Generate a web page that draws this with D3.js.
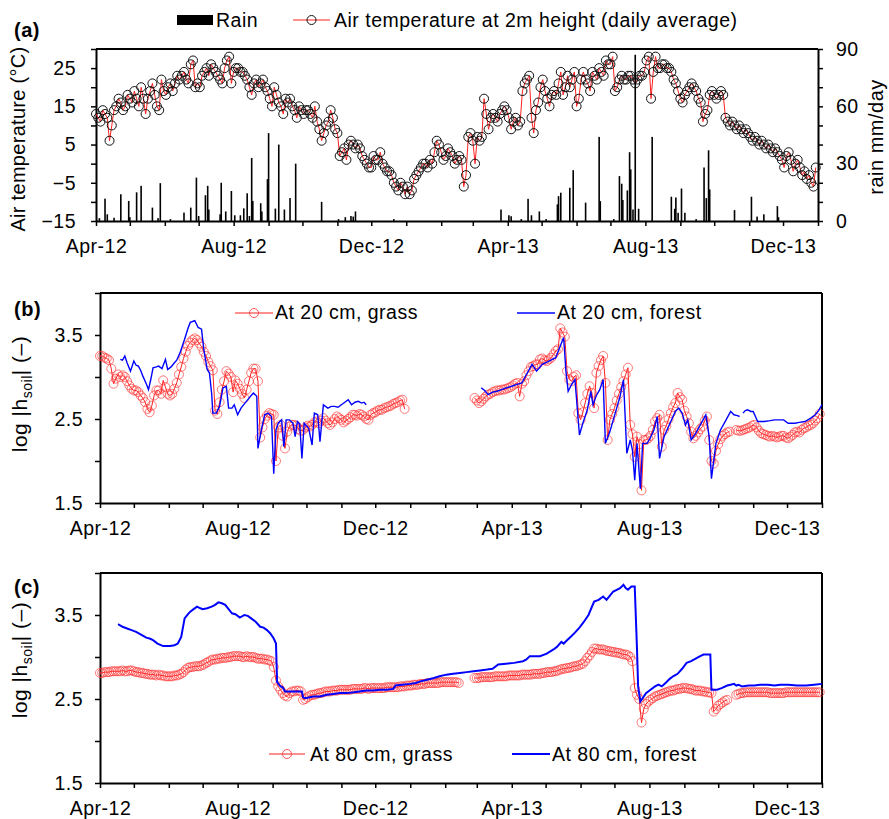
<!DOCTYPE html>
<html>
<head>
<meta charset="utf-8">
<script src="https://cdn.jsdelivr.net/npm/d3@7"></script>
<style>
body { margin: 0; background: #fff; }
text { font-family: Arial, "Liberation Sans", sans-serif; }
</style>
</head>
<body>
<div id="chart"></div>
<script>
const width = 889, height = 819;

// ---- data ----
// days are counted from 1 Apr 2012; step arrays give one value every 2 days
const step = 2;
const airTemp = [
  13, 12, 11, 14, 13, 12, 6, 10, 14, 15,
  17, 16, 14, 15, 18, 17, 16, 19, 17, 15,
  20, 17, 13, 17, 19, 21, 18, 15, 14, 22,
  19, 18, 20, 21, 19, 21, 23, 22, 23, 24,
  22, 21, 26, 27, 20, 21, 20, 23, 24, 25,
  23, 26, 25, 24, 23, 22, 21, 25, 27, 28,
  21, 24, 25, 25, 24, 24, 23, 22, 20, 18,
  21, 22, 20, 21, 22, 20, 19, 17, 15, 20,
  18, 16, 15, 13, 17, 16, 17, 15, 14, 12,
  15, 14, 13, 14, 14, 13, 12, 15, 11, 9,
  6, 8, 10, 11, 14, 12, 9, 8, 2, 3,
  4, 1, 5, 6, 5, 4, 5, 4, 2, 1,
  0, -1, -1, 2, 1, 1, 3, 0, -1, -2,
  -2, -3, -5, -6, -7, -5, -6, -8, -6, -8,
  -7, -4, -3, -2, -1, 0, 0, -1, 1, 0,
  3, 6, 5, 3, 1, 2, 4, 3, 2, 0,
  1, 2, 1, -6, -3, 7, 8, 6, 0, 7,
  6, 7, 17, 13, 9, 12, 13, 12, 11, 13,
  14, 15, 14, 12, 9, 11, 12, 10, 11, 19,
  21, 22, 23, 12, 8, 14, 16, 20, 22, 19,
  17, 15, 18, 19, 18, 21, 24, 18, 20, 23,
  20, 22, 24, 15, 17, 22, 24, 22, 21, 19,
  24, 23, 22, 25, 24, 23, 27, 26, 26, 28,
  19, 20, 22, 23, 22, 22, 23, 23, 22, 21,
  22, 23, 23, 24, 27, 28, 17, 24, 28, 25,
  25, 26, 26, 25, 25, 24, 22, 21, 19, 17,
  16, 18, 19, 20, 21, 20, 19, 17, 16, 11,
  13, 14, 18, 19, 18, 17, 18, 19, 18, 12,
  11, 10, 11, 10, 9, 10, 9, 8, 9, 8,
  7, 6, 7, 6, 5, 6, 5, 4, 5, 4,
  3, 4, 3, 2, 1, -1, 2, 3, 1, -2,
  0, 1, -1, -3, -2, -4, -3, -5, -6, -1
];

// [day, mm]
const rain = [
  [3, 1.5], [8, 11.7], [10, 3.5], [16, 1.7], [22, 14], [29, 10.5], [30, 2], [36, 15], [40, 18.4],
  [50, 7], [55, 1.5], [57, 19.8], [66, 1], [78, 4.4], [84, 7], [89, 22.7], [91, 2.6], [97, 13.5],
  [99, 18.4], [100, 6], [110, 3.5], [111, 20], [115, 5], [120, 15.7], [123, 3], [128, 3], [131, 6.6],
  [134, 14.5], [136, 2.6], [138, 33], [139, 10.5], [146, 9.3], [147, 5], [152, 21.9], [153, 46],
  [159, 6.5], [162, 40], [167, 6], [172, 12], [177, 30], [200, 10], [215, 1], [221, 2], [226, 2.6],
  [228, 2.3], [230, 5], [264, 1], [359, 6], [366, 3], [368, 2.5], [377, 1], [383, 11.6], [386, 3],
  [393, 5], [399, 1], [409, 8.7], [410, 13], [412, 14.8], [420, 17.4], [423, 26.6], [434, 9.6],
  [446, 44], [447, 10.4], [459, 1], [464, 23.5], [466, 19.5], [467, 11], [471, 16], [473, 36],
  [474, 27], [476, 6], [478, 87], [481, 6.4], [493, 44], [510, 12.7], [513, 6.4], [514, 12.3],
  [516, 4.3], [519, 17], [522, 4.3], [532, 1], [539, 28], [541, 12], [543, 37], [544, 16.5],
  [566, 5.7], [581, 12.7], [586, 2.3], [592, 3.5], [604, 7.8], [605, 2]
];

// log|h_soil| at 20 cm, grass (three measured stretches)
const grassStarts = [0, 332, 564];
const grass20A = [
  3.25, 3.25, 3.23, 3.22, 3.20, 3.10, 2.92, 2.98, 3.03, 3.00,
  3.02, 3.00, 2.95, 2.90, 2.86, 2.84, 2.84, 2.82, 2.78, 2.75,
  2.70, 2.62, 2.58, 2.66, 2.78, 2.84, 2.84, 2.80, 2.96, 2.88,
  2.80, 2.78, 2.80, 2.86, 2.93, 3.03, 3.12, 3.22, 3.30, 3.37,
  3.41, 3.44, 3.46, 3.44, 3.40, 3.36, 3.30, 3.25, 3.18, 3.13,
  3.08, 2.60, 2.56, 2.70, 2.85, 2.95, 3.07, 3.04, 3.00, 2.82,
  2.96, 2.92, 2.86, 2.80, 2.75, 2.85, 2.95, 3.05, 3.10, 3.10,
  2.95, 2.28, 2.40, 2.50, 2.54, 2.57, 2.56, 2.55, 2.00, 2.40,
  2.43, 2.30, 2.15, 2.35, 2.41, 2.43, 2.43, 2.42, 2.38, 2.36,
  2.37, 2.40, 2.42, 2.41, 2.43, 2.46, 2.47, 2.45, 2.48, 2.51,
  2.48, 2.45, 2.43, 2.46, 2.50, 2.53, 2.51, 2.49, 2.46, 2.48,
  2.50, 2.52, 2.55, 2.55, 2.54, 2.56, 2.55, 2.53, 2.50, 2.49,
  2.55, 2.57, 2.58, 2.60, 2.61, 2.61, 2.63, 2.64, 2.65, 2.66,
  2.68, 2.69, 2.70, 2.72, 2.73, 2.62
];
const grass20B = [
  2.75, 2.72, 2.69, 2.71, 2.74, 2.77, 2.79, 2.80, 2.82, 2.83,
  2.84, 2.84, 2.85, 2.85, 2.86, 2.87, 2.88, 2.90, 2.92, 2.93,
  2.77, 2.92, 2.95, 3.02, 3.07, 3.12, 3.13, 3.15, 3.15, 3.21,
  3.22, 3.20, 3.19, 3.21, 3.23, 3.27, 3.31, 3.33, 3.58, 3.53,
  3.48, 3.07, 2.97, 2.95, 3.00, 3.02, 2.57, 2.49, 2.58, 2.69,
  2.80, 2.89, 2.81, 2.63, 3.05, 3.13, 3.20, 3.25, 2.93, 2.25,
  2.49, 2.56, 2.63, 2.72, 2.80, 2.88, 2.95, 3.03, 3.11, 2.43,
  2.32, 2.05, 2.29, 2.20, 1.65, 2.25, 2.25, 2.27, 2.30, 2.37,
  2.47, 2.51, 2.55, 2.17, 2.37, 2.42, 2.50, 2.57, 2.64, 2.69,
  2.81, 2.76, 2.73, 2.60, 2.53, 2.45, 2.35, 2.27, 2.30, 2.34,
  2.38, 2.41, 2.48, 2.53, 2.25, 2.00, 1.97, 2.12, 2.20, 2.26,
  2.30, 2.32, 2.34, 2.35
];
const grass20C = [
  2.37, 2.36, 2.36, 2.37, 2.38, 2.39, 2.40, 2.42, 2.43, 2.40,
  2.36, 2.33, 2.32, 2.31, 2.30, 2.29, 2.30, 2.29, 2.28, 2.29,
  2.30, 2.30, 2.28, 2.27, 2.29, 2.31, 2.34, 2.35, 2.34, 2.37,
  2.39, 2.40, 2.42, 2.43, 2.45, 2.48, 2.51, 2.56
];

// log|h_soil| at 20 cm, forest: [day, value], null = gap
const forest20 = [
  [18, 3.21], [20, 3.20], [22, 3.25], [24, 3.17], [27, 3.07], [30, 3.19], [32, 3.14], [34, 3.13],
  [36, 3.08], [38, 3.01], [41, 2.92], [43, 2.85], [45, 2.97], [47, 3.11], [50, 3.12], [52, 3.13],
  [55, 3.10], [58, 3.21], [60, 3.09], [63, 3.12], [66, 3.17], [68, 3.20], [71, 3.29], [75, 3.45],
  [78, 3.58], [80, 3.65], [84, 3.67], [87, 3.59], [90, 3.57], [92, 3.33], [95, 3.09], [97, 3.05],
  [99, 2.80], [100, 2.57], [103, 2.57], [106, 2.65], [109, 2.87], [112, 2.89], [114, 2.63],
  [117, 2.63], [119, 2.67], [122, 2.55], [125, 2.63], [128, 2.68], [131, 2.73], [134, 2.78],
  [136, 2.81], [139, 2.77], [140, 2.15], [143, 2.37], [146, 2.55], [149, 2.57], [152, 2.53],
  [154, 1.85], [156, 2.37], [158, 2.45], [161, 2.49], [163, 2.17], [165, 2.49], [168, 2.49],
  [171, 2.45], [173, 2.29], [175, 2.47], [177, 2.44], [179, 2.03], [181, 2.45], [185, 2.39],
  [188, 2.19], [190, 2.57], [193, 2.55], [195, 2.23], [198, 2.67], [202, 2.63], [205, 2.65],
  [208, 2.65], [211, 2.64], [214, 2.67], [217, 2.70], [220, 2.73], [223, 2.67], [226, 2.70],
  [229, 2.71], [232, 2.69], [234, 2.70], [236, 2.67],
  null,
  [338, 2.87], [341, 2.84], [344, 2.79], [348, 2.82], [352, 2.83], [356, 2.85], [360, 2.87],
  [365, 2.89], [369, 2.91], [374, 2.93], [378, 3.03], [383, 3.15], [387, 3.07], [392, 3.15],
  [398, 3.19], [404, 3.23], [408, 3.37], [411, 3.47], [413, 3.07], [415, 2.83], [418, 2.91],
  [421, 2.97], [425, 2.31], [428, 2.45], [432, 2.61], [435, 2.83], [437, 2.67], [440, 2.78],
  [443, 2.85], [446, 2.97], [448, 2.21], [452, 2.35], [455, 2.49], [458, 2.63], [461, 2.77],
  [464, 2.97], [467, 2.09], [470, 2.25], [472, 2.13], [474, 1.77], [476, 2.21], [479, 1.67],
  [481, 2.21], [485, 2.21], [488, 2.28], [491, 2.37], [494, 2.53], [496, 2.03], [500, 2.29],
  [503, 2.38], [506, 2.47], [510, 2.59], [513, 2.63], [516, 2.57], [519, 2.43], [521, 2.49],
  [524, 2.25], [528, 2.33], [533, 2.45], [537, 2.55], [540, 2.29], [542, 1.79], [546, 2.21],
  [550, 2.37], [555, 2.49], [559, 2.59], [562, 2.55], [565, 2.54], [567, 2.53],
  null,
  [570, 2.57], [572, 2.60], [574, 2.61], [577, 2.59], [579, 2.59], [583, 2.47], [586, 2.47],
  [589, 2.47], [594, 2.48], [598, 2.49], [602, 2.49], [606, 2.49], [610, 2.45], [616, 2.45],
  [620, 2.46], [625, 2.47], [630, 2.51], [634, 2.55], [637, 2.60], [640, 2.67]
];

// log|h_soil| at 80 cm, grass
const grass80A = [
  2.81, 2.81, 2.82, 2.82, 2.82, 2.83, 2.83, 2.83, 2.83, 2.83,
  2.84, 2.83, 2.83, 2.84, 2.84, 2.83, 2.82, 2.82, 2.81, 2.81,
  2.80, 2.80, 2.79, 2.79, 2.79, 2.78, 2.79, 2.78, 2.78, 2.77,
  2.77, 2.77, 2.77, 2.78, 2.78, 2.79, 2.80, 2.82, 2.85, 2.87,
  2.88, 2.88, 2.89, 2.89, 2.89, 2.90, 2.91, 2.93, 2.94, 2.96,
  2.97, 2.97, 2.98, 2.98, 2.99, 2.99, 2.99, 3.00, 3.00, 3.01,
  3.01, 3.01, 3.01, 3.00, 3.00, 3.01, 3.00, 3.00, 3.00, 2.99,
  2.98, 2.98, 2.98, 2.97, 2.97, 2.96, 2.95, 2.88, 2.72, 2.65,
  2.61, 2.57, 2.54, 2.53, 2.57, 2.59, 2.59, 2.60, 2.60, 2.59,
  2.49, 2.50, 2.52, 2.54, 2.55, 2.55, 2.56, 2.57, 2.57, 2.58,
  2.59, 2.59, 2.59, 2.60, 2.60, 2.60, 2.61, 2.61, 2.61, 2.61,
  2.61, 2.61, 2.62, 2.62, 2.62, 2.62, 2.62, 2.63, 2.63, 2.62,
  2.63, 2.63, 2.63, 2.63, 2.63, 2.63, 2.63, 2.64, 2.64, 2.64,
  2.64, 2.64, 2.64, 2.65, 2.65, 2.65, 2.66, 2.66, 2.66, 2.67,
  2.67, 2.67, 2.68, 2.68, 2.68, 2.69, 2.69, 2.69, 2.69, 2.69,
  2.69, 2.70, 2.70, 2.70, 2.70, 2.70, 2.70, 2.70, 2.70, 2.69
];
const grass80B = [
  2.75, 2.75, 2.75, 2.76, 2.76, 2.76, 2.76, 2.76, 2.76, 2.77,
  2.77, 2.77, 2.77, 2.77, 2.77, 2.78, 2.78, 2.78, 2.78, 2.78,
  2.78, 2.79, 2.79, 2.79, 2.79, 2.79, 2.80, 2.80, 2.80, 2.80,
  2.81, 2.81, 2.82, 2.82, 2.82, 2.83, 2.83, 2.84, 2.85, 2.86,
  2.86, 2.87, 2.87, 2.88, 2.89, 2.89, 2.90, 2.91, 2.92, 2.95,
  2.99, 3.02, 3.06, 3.10, 3.10, 3.09, 3.09, 3.09, 3.08, 3.07,
  3.07, 3.06, 3.06, 3.05, 3.05, 3.04, 3.03, 3.03, 3.02, 3.00,
  2.95, 2.63, 2.55, 2.50, 2.22, 2.38, 2.44, 2.47, 2.49, 2.51,
  2.53, 2.54, 2.55, 2.56, 2.57, 2.58, 2.59, 2.60, 2.60, 2.61,
  2.62, 2.62, 2.63, 2.63, 2.63, 2.62, 2.62, 2.61, 2.60, 2.60,
  2.60, 2.59, 2.59, 2.58, 2.58, 2.57, 2.35, 2.38, 2.42, 2.44,
  2.46, 2.48, 2.49
];
const grass80C = [
  2.55, 2.56, 2.57, 2.57, 2.58, 2.58, 2.58, 2.58, 2.58, 2.58,
  2.58, 2.58, 2.58, 2.58, 2.58, 2.57, 2.57, 2.57, 2.57, 2.57,
  2.57, 2.57, 2.58, 2.58, 2.58, 2.58, 2.58, 2.58, 2.58, 2.58,
  2.58, 2.58, 2.58, 2.58, 2.58, 2.58, 2.58, 2.58
];

// log|h_soil| at 80 cm, forest: [day, value]
const forest80 = [
  [16, 3.39], [20, 3.36], [24, 3.34], [28, 3.32], [32, 3.30], [36, 3.27], [41, 3.23], [44, 3.22],
  [47, 3.20], [51, 3.16], [56, 3.13], [59, 3.13], [62, 3.13], [66, 3.14], [69, 3.16], [72, 3.24],
  [75, 3.46], [78, 3.51], [80, 3.54], [83, 3.57], [86, 3.60], [89, 3.58], [91, 3.57], [95, 3.58],
  [99, 3.60], [102, 3.62], [105, 3.65], [108, 3.64], [111, 3.62], [114, 3.57], [117, 3.52],
  [120, 3.51], [124, 3.47], [128, 3.50], [131, 3.49], [134, 3.46], [138, 3.42], [142, 3.36],
  [145, 3.35], [148, 3.32], [151, 3.28], [154, 3.22], [156, 3.16], [157, 2.70], [160, 2.65],
  [162, 2.64], [164, 2.59], [168, 2.59], [172, 2.59], [176, 2.59], [179, 2.59], [180, 2.52],
  [182, 2.51], [189, 2.53], [195, 2.53], [201, 2.55], [207, 2.56], [213, 2.57], [219, 2.57],
  [225, 2.58], [230, 2.59], [236, 2.60], [242, 2.60], [248, 2.61], [254, 2.61], [260, 2.62],
  [262, 2.66], [268, 2.67], [275, 2.68], [280, 2.69], [284, 2.71], [290, 2.73], [296, 2.75],
  [301, 2.77], [307, 2.79], [313, 2.80], [319, 2.81], [325, 2.82], [331, 2.83], [337, 2.84],
  [343, 2.85], [348, 2.86], [353, 2.91], [360, 2.92], [367, 2.93], [375, 2.95], [378, 2.97],
  [381, 3.01], [385, 3.01], [390, 3.01], [396, 3.04], [402, 3.09], [405, 3.12], [409, 3.18],
  [411, 3.16], [414, 3.20], [418, 3.25], [421, 3.29], [425, 3.35], [429, 3.42], [433, 3.50],
  [438, 3.66], [442, 3.68], [446, 3.72], [449, 3.68], [452, 3.73], [455, 3.78], [458, 3.80],
  [461, 3.82], [464, 3.86], [466, 3.82], [468, 3.80], [471, 3.84], [474, 3.84], [476, 3.10],
  [477, 2.65], [479, 2.47], [482, 2.53], [484, 2.57], [488, 2.61], [492, 2.65], [495, 2.67],
  [498, 2.65], [502, 2.70], [505, 2.74], [508, 2.77], [512, 2.80], [516, 2.86], [520, 2.93],
  [524, 2.95], [528, 2.98], [532, 3.01], [535, 3.03], [538, 3.03], [541, 3.03], [542, 2.61],
  [547, 2.61], [551, 2.63], [556, 2.66], [559, 2.67], [562, 2.68], [564, 2.66], [566, 2.67],
  [569, 2.65], [575, 2.66], [580, 2.66], [585, 2.67], [592, 2.67], [598, 2.66], [603, 2.67],
  [610, 2.67], [618, 2.66], [626, 2.66], [633, 2.67], [640, 2.68]
];

const tempTicks = [-15, -10, -5, 0, 5, 10, 15, 20, 25, 30];
const tempLabels = [-15, -5, 5, 15, 25];
const rainTicks = [0, 10, 20, 30, 40, 50, 60, 70, 80, 90];
const rainLabels = [0, 30, 60, 90];
const soilTicks = [1.5, 2, 2.5, 3, 3.5, 4];
const soilLabels = [1.5, 2.5, 3.5];

// ---- helpers ----
const t0 = new Date(Date.UTC(2012, 3, 1));
const t1 = new Date(Date.UTC(2014, 0, 1));
const toDate = d => new Date(t0.getTime() + d * 864e5);
const months = d3.utcMonth.range(t0, d3.utcDay.offset(t1, 1));
const fmt = d3.utcFormat("%b-%y");
const labelled = d => [3, 7, 11].includes(d.getUTCMonth());

const stepSeries = (vals, start) => vals.map((v, i) => [start + i * step, v]);
const grass20 = [
  ...stepSeries(grass20A, grassStarts[0]), null,
  ...stepSeries(grass20B, grassStarts[1]), null,
  ...stepSeries(grass20C, grassStarts[2])
];
const grass80 = [
  ...stepSeries(grass80A, grassStarts[0]), null,
  ...stepSeries(grass80B, grassStarts[1]), null,
  ...stepSeries(grass80C, grassStarts[2])
];

const svg = d3.select("#chart").append("svg")
  .attr("width", width)
  .attr("height", height);

function styleAxis(g, size) {
  g.attr("font-family", "Arial, 'Liberation Sans', sans-serif")
    .attr("font-size", size);
  g.select(".domain").attr("stroke-width", 2);
  g.selectAll(".tick line").attr("stroke-width", 1.5);
  g.selectAll("text").attr("letter-spacing", "0.5px").attr("fill", "#000");
}

function panel(p) {
  const x = d3.scaleUtc().domain([t0, t1]).range([p.left, p.right]);
  const y = d3.scaleLinear().domain(p.yDomain).range([p.bottom, p.top]);
  const g = svg.append("g");

  // frame
  g.append("line")
    .attr("x1", p.left).attr("x2", p.right)
    .attr("y1", p.top).attr("y2", p.top)
    .attr("stroke", "#000").attr("stroke-width", 2);
  if (p.rightFrame) {
    g.append("line")
      .attr("x1", p.right).attr("x2", p.right)
      .attr("y1", p.top).attr("y2", p.bottom)
      .attr("stroke", "#000").attr("stroke-width", 2);
  }

  g.append("g")
    .attr("transform", "translate(0," + p.bottom + ")")
    .call(d3.axisBottom(x).tickValues(months).tickSize(5).tickSizeOuter(0).tickPadding(13)
      .tickFormat(d => labelled(d) ? fmt(d) : ""))
    .call(a => styleAxis(a, 19.5));

  g.append("g")
    .attr("transform", "translate(" + p.left + ",0)")
    .call(d3.axisLeft(y).tickValues(p.yTicks).tickSize(5).tickSizeOuter(0).tickPadding(p.yPad)
      .tickFormat(d => p.yLabels.includes(d) ? p.yFmt(d) : ""))
    .call(a => styleAxis(a, 19.5));

  return { x, y, g };
}

const lineOf = (x, y) => d3.line()
  .defined(d => d)
  .x(d => x(toDate(d[0])))
  .y(d => y(d[1]));

// ---- (a) temperature and rain ----
const pa = panel({
  left: 96, right: 818, top: 49, bottom: 221,
  yDomain: [-15, 30], yTicks: tempTicks, yLabels: tempLabels,
  yFmt: d3.format("d"), yPad: 15, rightFrame: false
});
const rainY = d3.scaleLinear().domain([0, 90]).range([221, 49]);
pa.g.append("g")
  .attr("transform", "translate(818,0)")
  .call(d3.axisRight(rainY).tickValues(rainTicks).tickSize(5).tickSizeOuter(0).tickPadding(13)
    .tickFormat(d => rainLabels.includes(d) ? d : ""))
  .call(a => styleAxis(a, 19.5));

const temp = airTemp.map((v, i) => [i * step, v]);
pa.g.append("path")
  .datum(temp)
  .attr("fill", "none")
  .attr("stroke", "#ff2020")
  .attr("stroke-width", 1)
  .attr("d", lineOf(pa.x, pa.y));
pa.g.selectAll("circle.temp")
  .data(temp)
  .join("circle")
  .attr("class", "temp")
  .attr("cx", d => pa.x(toDate(d[0])))
  .attr("cy", d => pa.y(d[1]))
  .attr("r", 4.5)
  .attr("fill", "none")
  .attr("stroke", "#111")
  .attr("stroke-width", 1);

pa.g.selectAll("rect.rain")
  .data(rain)
  .join("rect")
  .attr("class", "rain")
  .attr("x", d => pa.x(toDate(d[0])) - 0.8)
  .attr("width", 1.6)
  .attr("y", d => rainY(d[1]))
  .attr("height", d => rainY(0) - rainY(d[1]))
  .attr("fill", "#000");

// ---- (b) 20 cm ----
const pb = panel({
  left: 100, right: 822, top: 293, bottom: 503,
  yDomain: [1.5, 4], yTicks: soilTicks, yLabels: soilLabels,
  yFmt: d3.format(".1f"), yPad: 12, rightFrame: true
});
pb.g.append("path")
  .datum(grass20)
  .attr("fill", "none")
  .attr("stroke", "#ff2020")
  .attr("stroke-width", 1)
  .attr("d", lineOf(pb.x, pb.y));
pb.g.selectAll("circle.g20")
  .data(grass20.filter(d => d))
  .join("circle")
  .attr("class", "g20")
  .attr("cx", d => pb.x(toDate(d[0])))
  .attr("cy", d => pb.y(d[1]))
  .attr("r", 4.5)
  .attr("fill", "none")
  .attr("stroke", "#ff3030")
  .attr("stroke-opacity", 0.8)
  .attr("stroke-width", 0.8);
pb.g.append("path")
  .datum(forest20)
  .attr("fill", "none")
  .attr("stroke", "#0000ff")
  .attr("stroke-width", 1.4)
  .attr("d", lineOf(pb.x, pb.y));

// ---- (c) 80 cm ----
const pc = panel({
  left: 100, right: 822, top: 573, bottom: 783,
  yDomain: [1.5, 4], yTicks: soilTicks, yLabels: soilLabels,
  yFmt: d3.format(".1f"), yPad: 12, rightFrame: true
});
pc.g.append("path")
  .datum(grass80)
  .attr("fill", "none")
  .attr("stroke", "#ff2020")
  .attr("stroke-width", 1)
  .attr("d", lineOf(pc.x, pc.y));
pc.g.selectAll("circle.g80")
  .data(grass80.filter(d => d))
  .join("circle")
  .attr("class", "g80")
  .attr("cx", d => pc.x(toDate(d[0])))
  .attr("cy", d => pc.y(d[1]))
  .attr("r", 4.5)
  .attr("fill", "none")
  .attr("stroke", "#ff3030")
  .attr("stroke-opacity", 0.8)
  .attr("stroke-width", 0.8);
pc.g.append("path")
  .datum(forest80)
  .attr("fill", "none")
  .attr("stroke", "#0000ff")
  .attr("stroke-width", 2)
  .attr("d", lineOf(pc.x, pc.y));

// ---- labels and legends ----
function txt(x, y, s, size, opts) {
  const t = svg.append("text")
    .attr("x", x).attr("y", y)
    .attr("font-size", size)
    .attr("letter-spacing", "0.5px")
    .text(s);
  if (opts && opts.bold) t.attr("font-weight", "bold");
  return t;
}

txt(14, 37, "(a)", 20, { bold: true });
txt(14, 316, "(b)", 20, { bold: true });
txt(14, 594, "(c)", 20, { bold: true });

svg.append("text")
  .attr("transform", "translate(25,139) rotate(-90)")
  .attr("text-anchor", "middle")
  .attr("font-size", 20)
  .attr("letter-spacing", "0.3px")
  .text("Air temperature (°C)");
svg.append("text")
  .attr("transform", "translate(883,137) rotate(-90)")
  .attr("text-anchor", "middle")
  .attr("font-size", 20)
  .attr("letter-spacing", "0.5px")
  .text("rain mm/day");

function soilLabel(cy) {
  const t = svg.append("text")
    .attr("transform", "translate(27," + cy + ") rotate(-90)")
    .attr("text-anchor", "middle")
    .attr("font-size", 21)
    .attr("letter-spacing", "0.5px");
  t.append("tspan").text("log |h");
  t.append("tspan").attr("font-size", 14).attr("dy", 5).text("soil");
  t.append("tspan").attr("dy", -5).text("| (–)");
}
soilLabel(394);
soilLabel(660);

// legend (a)
svg.append("rect").attr("x", 177).attr("y", 15).attr("width", 36).attr("height", 10).attr("fill", "#000");
txt(216, 27, "Rain", 19.5);
svg.append("line").attr("x1", 293).attr("x2", 330).attr("y1", 20).attr("y2", 20)
  .attr("stroke", "#ff2020").attr("stroke-width", 1);
svg.append("circle").attr("cx", 311.5).attr("cy", 20).attr("r", 4.5)
  .attr("fill", "none").attr("stroke", "#111");
txt(334, 27, "Air temperature at 2m height (daily average)", 19.5);

// legend (b)
svg.append("line").attr("x1", 235).attr("x2", 273).attr("y1", 313).attr("y2", 313)
  .attr("stroke", "#ff2020").attr("stroke-width", 1);
svg.append("circle").attr("cx", 254).attr("cy", 313).attr("r", 4.5)
  .attr("fill", "none").attr("stroke", "#ff3030").attr("stroke-width", 0.8);
txt(275, 319, "At 20 cm, grass", 19.5);
svg.append("line").attr("x1", 517).attr("x2", 555).attr("y1", 313).attr("y2", 313)
  .attr("stroke", "#0000ff").attr("stroke-width", 1.4);
txt(557, 319, "At 20 cm, forest", 19.5);

// legend (c)
svg.append("line").attr("x1", 269).attr("x2", 305).attr("y1", 754).attr("y2", 754)
  .attr("stroke", "#ff2020").attr("stroke-width", 1);
svg.append("circle").attr("cx", 287).attr("cy", 754).attr("r", 4.5)
  .attr("fill", "none").attr("stroke", "#ff3030").attr("stroke-width", 0.8);
txt(310, 761, "At 80 cm, grass", 19.5);
svg.append("line").attr("x1", 512).attr("x2", 550).attr("y1", 754).attr("y2", 754)
  .attr("stroke", "#0000ff").attr("stroke-width", 2);
txt(552, 761, "At 80 cm, forest", 19.5);
</script>
</body>
</html>
